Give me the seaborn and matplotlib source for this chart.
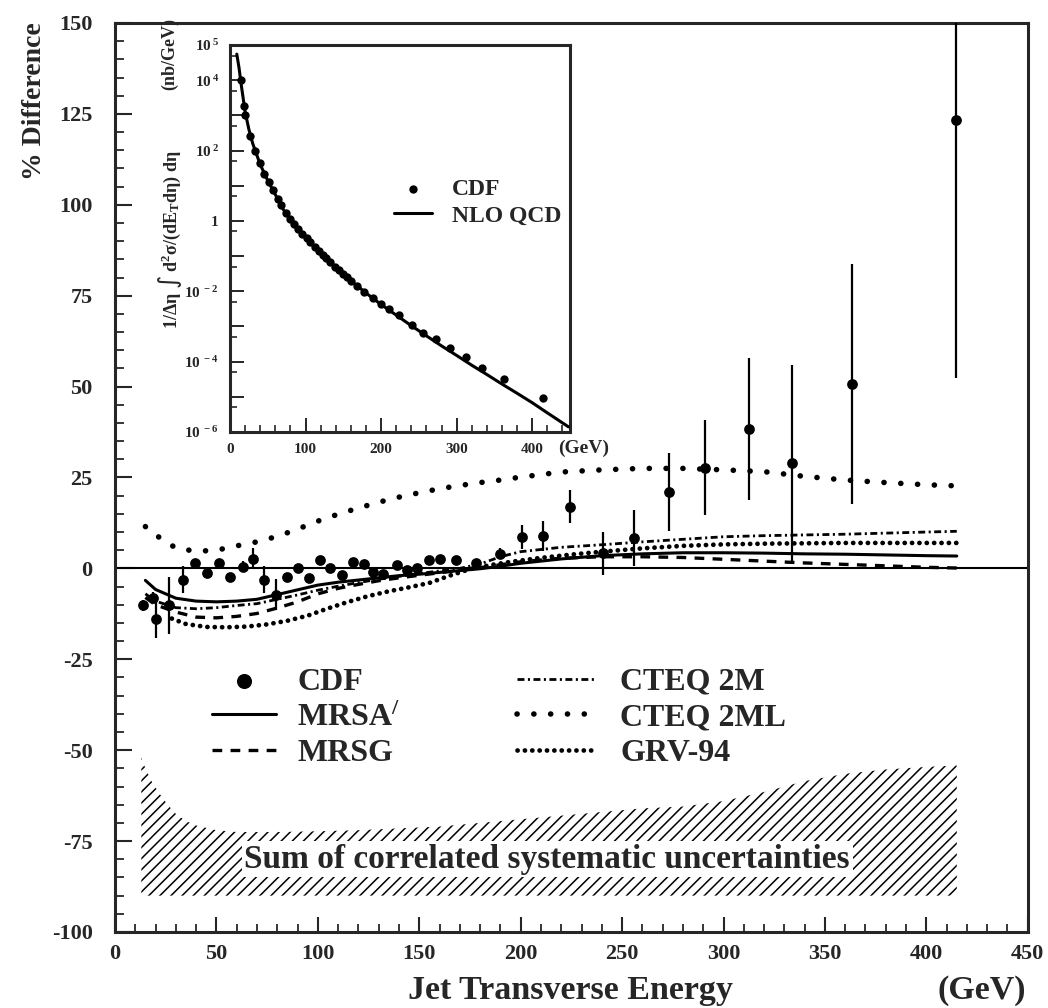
import numpy as np
import pandas as pd
import matplotlib
matplotlib.use("Agg")
import matplotlib.pyplot as plt
import seaborn as sns
from matplotlib.ticker import MultipleLocator, FixedLocator, FixedFormatter, NullFormatter

# ---------------- data ----------------
cdf_et = [14.0, 18.6, 20.2, 26.8, 33.3, 39.4, 45.5, 51.4, 56.7, 62.9, 68.1, 73.6, 79.3, 84.6,
          90.3, 95.7, 101.3, 106.2, 112.0, 117.4, 122.7, 127.0, 132.0, 138.8, 144.0, 149.0,
          154.8, 160.1, 168.3, 178.0, 189.7, 200.5, 211.0, 224.3, 240.4, 256.0, 273.0, 291.0,
          312.8, 334.0, 363.3, 414.6]
cdf_diff = [-10.2, -8.1, -13.8, -10.2, -3.1, 1.5, -1.3, 1.5, -2.4, 0.4, 2.7, -3.1, -7.2, -2.4,
            0.1, -2.6, 2.4, 0.1, -1.7, 1.7, 1.2, -1.0, -1.5, 0.8, -0.5, 0.0,
            2.4, 2.7, 2.4, 1.5, 4.0, 8.6, 8.9, 17.0, 4.1, 8.3, 21.0, 27.7,
            38.4, 29.0, 50.6, 123.4]
cdf_err = [1.5, 1.5, 5.3, 7.8, 3.7, 0.8, 0.8, 0.8, 0.8, 1.5, 3.0, 3.7, 4.3, 0.8,
           0.8, 0.8, 0.8, 0.8, 0.8, 0.8, 0.8, 0.8, 0.8, 0.8, 0.8, 0.8,
           0.8, 0.8, 0.8, 0.8, 1.5, 3.2, 4.0, 4.5, 5.8, 7.7, 10.7, 13.0,
           19.5, 27.0, 33.0, 71.0]

theory_et = [15, 20, 30, 40, 50, 60, 70, 80, 90, 100, 110, 120, 130, 140, 150, 160, 170, 180,
             190, 200, 220, 240, 260, 280, 300, 320, 340, 360, 380, 400, 415]
mrsa = [-3.3, -5.8, -8.2, -9.0, -9.2, -9.0, -8.5, -7.2, -5.9, -4.6, -3.8, -3.2, -2.6, -2.0,
        -1.6, -1.1, -0.6, -0.1, 0.6, 1.4, 2.6, 3.5, 4.0, 4.3, 4.3, 4.2, 4.0, 3.9, 3.7, 3.5, 3.4]
mrsg = [-8.0, -10.0, -12.0, -13.4, -13.6, -13.2, -12.4, -10.9, -9.2, -7.0, -5.5, -4.4, -3.4,
        -2.6, -1.9, -1.2, -0.5, 0.2, 1.0, 1.8, 2.8, 3.2, 3.2, 3.0, 2.5, 2.0, 1.5, 1.1, 0.7, 0.3, 0.1]
cteq2m = [-7.0, -9.0, -10.8, -11.1, -10.8, -10.2, -9.7, -8.5, -7.3, -6.0, -4.9, -3.9, -3.0,
          -2.2, -1.4, -0.7, 0.0, 1.2, 3.2, 4.6, 5.8, 6.5, 7.3, 8.0, 8.7, 9.0, 9.2, 9.4, 9.7, 10.0, 10.2]
cteq2ml = [11.5, 9.2, 5.6, 4.7, 5.0, 6.2, 7.3, 8.8, 10.8, 13.0, 14.9, 16.6, 18.2, 19.6, 20.8,
           21.9, 22.8, 23.6, 24.3, 25.1, 26.5, 27.1, 27.5, 27.5, 27.1, 26.6, 25.3, 24.3, 23.6, 23.0, 22.7]
grv_et = [28, 35, 45, 55, 65, 75, 85, 95, 105, 115, 125, 135, 145, 155, 165, 175, 185, 195,
          210, 225, 240, 260, 280, 300, 320, 340, 360, 380, 400, 415]
grv94 = [-13.8, -15.3, -16.1, -16.2, -16.0, -15.4, -14.4, -13.0, -11.0, -9.2, -7.6, -6.3, -5.2,
         -4.0, -2.0, -0.2, 0.9, 1.8, 2.9, 3.8, 4.6, 5.5, 6.2, 6.6, 6.8, 6.9, 7.0, 7.0, 7.0, 7.0]

band_et = [13, 15, 18, 22, 26, 30, 35, 40, 50, 60, 80, 100, 120, 140, 160, 180, 200, 220, 240,
           260, 280, 300, 320, 340, 360, 380, 400, 415]
band_top = [-52, -55, -58.5, -62, -65, -67.5, -69.5, -70.7, -72, -72.5, -72.5, -72.3, -72, -71.5,
            -71, -70, -69, -68, -67, -66, -65.5, -64, -61.5, -58.5, -56.5, -55.3, -54.6, -54.2]
band_bottom = [-90] * len(band_et)

# inset: cross section (nb/GeV)
inset_xsec = [1.0e4, 1.9e3, 1.0e3, 2.6e2, 98, 44, 22, 12.6, 7.4, 4.3, 2.75, 1.7, 1.1, 0.82,
              0.59, 0.43, 0.32, 0.245, 0.178, 0.141, 0.107, 0.087, 0.069, 0.050, 0.040, 0.032,
              0.0256, 0.020, 0.0143, 0.0096, 0.0064, 0.0044, 0.0031, 0.0021, 0.00107, 6.6e-4,
              4.3e-4, 2.5e-4, 1.38e-4, 6.6e-5, 3.2e-5, 9.5e-6]
nlo_et = [9, 12, 15, 20, 25, 30, 40, 50, 60, 70, 80, 90, 100, 120, 140, 160, 180, 200, 220, 240,
          260, 280, 300, 320, 340, 360, 380, 400, 420, 448]
nlo_xsec = [5.5e4, 2.2e4, 7.1e3, 1.26e3, 4.0e2, 1.6e2, 40, 14, 5.6, 2.2, 1.1, 0.6, 0.34, 0.12,
            0.048, 0.020, 0.0089, 0.0042, 0.0021, 0.00105, 5.4e-4, 2.8e-4, 1.5e-4, 7.9e-5,
            4.3e-5, 2.3e-5, 1.26e-5, 6.8e-6, 3.5e-6, 1.4e-6]

x_ticks = [0, 50, 100, 150, 200, 250, 300, 350, 400, 450]
y_ticks = [-100, -75, -50, -25, 0, 25, 50, 75, 100, 125, 150]
inset_decades = [1e-6, 1e-5, 1e-4, 1e-3, 1e-2, 1e-1, 1, 1e1, 1e2, 1e3, 1e4, 1e5]
inset_ylabels = [r"$\mathregular{10^{\,-6}}$", "", r"$\mathregular{10^{\,-4}}$", "",
                 r"$\mathregular{10^{\,-2}}$", "", "1", "", r"$\mathregular{10^{\,2}}$", "",
                 r"$\mathregular{10^{\,4}}$", r"$\mathregular{10^{\,5}}$"]
inset_xticks = [0, 100, 200, 300, 400]

# ---------------- style ----------------
sns.set_theme(style="ticks")
plt.rcParams["font.family"] = ["Liberation Serif", "DejaVu Serif"]
plt.rcParams["font.weight"] = "bold"
plt.rcParams["mathtext.default"] = "regular"
plt.rcParams["axes.unicode_minus"] = False
plt.rcParams["lines.scale_dashes"] = False
plt.rcParams["hatch.linewidth"] = 1.1
plt.rcParams["hatch.color"] = "black"

fig = plt.figure(figsize=(10.48, 10.08), dpi=100)
fig.patch.set_facecolor("white")
ax = fig.add_axes([0.1097, 0.0754, 0.871, 0.9018])
ax.set_facecolor("white")

# systematic band
ax.fill_between(band_et, band_bottom, band_top, facecolor="none", edgecolor="black",
                hatch="///", linewidth=0, zorder=1)
ax.text(213, -80, "Sum of correlated systematic uncertainties", ha="center", va="center",
        fontsize=24, fontweight="bold", zorder=3,
        bbox=dict(facecolor="white", edgecolor="none", pad=2))

ax.axhline(0, color="black", lw=1.5, zorder=2)

# theory curves
sns.lineplot(x=theory_et, y=mrsa, ax=ax, color="black", lw=2.2, label=r"MRSA$^{/}$", zorder=4)
sns.lineplot(x=theory_et, y=mrsg, ax=ax, color="black", lw=2.4, linestyle=(0, (7, 6)),
             label="MRSG", zorder=4)
sns.lineplot(x=theory_et, y=cteq2m, ax=ax, color="black", lw=2.0,
             linestyle=(0, (5, 2.5, 1.5, 2.5)), label="CTEQ 2M", zorder=4)
sns.lineplot(x=theory_et, y=cteq2ml, ax=ax, color="black", lw=4.0, linestyle=(0, (0.1, 12)),
             dash_capstyle="round", label="CTEQ 2ML", zorder=4)
sns.lineplot(x=grv_et, y=grv94, ax=ax, color="black", lw=3.4, linestyle=(0, (0.1, 5.2)),
             dash_capstyle="round", label="GRV-94", zorder=4)

# CDF data
ax.errorbar(cdf_et, cdf_diff, yerr=cdf_err, fmt="none", ecolor="black", elinewidth=1.6,
            capsize=0, zorder=5)
sns.scatterplot(x=cdf_et, y=cdf_diff, ax=ax, color="black", s=60, edgecolor="black",
                linewidth=0, label="CDF", zorder=6)

ax.set_xlim(0, 450)
ax.set_ylim(-100, 150)
ax.set_xlabel("")
ax.set_ylabel("")
ax.xaxis.set_major_locator(FixedLocator(x_ticks))
ax.xaxis.set_minor_locator(MultipleLocator(10))
ax.yaxis.set_major_locator(FixedLocator(y_ticks))
ax.yaxis.set_minor_locator(MultipleLocator(5))
ax.tick_params(axis="both", which="both", direction="in", top=False, right=False)
ax.tick_params(axis="x", which="major", length=11, width=1.5, pad=9, labelsize=16)
ax.tick_params(axis="x", which="minor", length=6, width=1.3)
ax.tick_params(axis="y", which="major", length=12, width=1.5, pad=16, labelsize=16)
ax.tick_params(axis="y", which="minor", length=6.5, width=1.3)
for lab in ax.get_xticklabels() + ax.get_yticklabels():
    lab.set_fontweight("bold")
for sp in ax.spines.values():
    sp.set_linewidth(2.2)
    sp.set_visible(True)

# legend in two columns (two legend boxes with their own handle lengths)
handles, labels = ax.get_legend_handles_labels()
hmap = dict(zip(labels, handles))
col1 = ["CDF", r"MRSA$^{/}$", "MRSG"]
col2 = ["CTEQ 2M", "CTEQ 2ML", "GRV-94"]
leg1 = ax.legend([hmap[k] for k in col1], col1, loc="upper left",
                 bbox_to_anchor=(0.106, 0.291), frameon=False, fontsize=23,
                 handlelength=2.0, handletextpad=0.67, labelspacing=0.2, borderpad=0,
                 borderaxespad=0, markerscale=1.4)
for t in leg1.get_texts():
    t.set_fontweight("bold")
ax.add_artist(leg1)
leg2 = ax.legend([hmap[k] for k in col2], col2, loc="upper left",
                 bbox_to_anchor=(0.440, 0.291), frameon=False, fontsize=23,
                 handlelength=2.5, handletextpad=0.75, labelspacing=0.2, borderpad=0,
                 borderaxespad=0)
for t in leg2.get_texts():
    t.set_fontweight("bold")

fig.text(35 / 1048, 1 - 22 / 1008, "% Difference", rotation=90, ha="center", va="top",
         fontsize=20, fontweight="bold")
fig.text(570 / 1048, 1 - 990 / 1008, "Jet Transverse Energy", ha="center", va="center",
         fontsize=24.5, fontweight="bold")
fig.text(982 / 1048, 1 - 990 / 1008, "(GeV)", ha="center", va="center",
         fontsize=24.5, fontweight="bold")

# ---------------- inset ----------------
ins = fig.add_axes([230 / 1048, 1 - 432 / 1008, 340 / 1048, 387 / 1008], zorder=10)
ins.set_facecolor("white")
sns.lineplot(x=nlo_et, y=nlo_xsec, ax=ins, color="black", lw=2.2, label="NLO QCD", zorder=3)
sns.scatterplot(x=cdf_et, y=inset_xsec, ax=ins, color="black", s=36, linewidth=0,
                label="CDF", zorder=4)
ins.set_yscale("log")
ins.set_xlim(0, 450)
ins.set_ylim(1e-6, 1e5)
ins.set_xlabel("")
ins.set_ylabel("")
ins.yaxis.set_major_locator(FixedLocator(inset_decades))
ins.yaxis.set_major_formatter(FixedFormatter(inset_ylabels))
ins.yaxis.set_minor_locator(FixedLocator([5 * d for d in inset_decades[:-1]]))
ins.yaxis.set_minor_formatter(NullFormatter())
ins.xaxis.set_major_locator(FixedLocator(inset_xticks))
ins.xaxis.set_minor_locator(MultipleLocator(20))
ins.tick_params(axis="both", which="both", direction="in", top=False, right=False)
ins.tick_params(axis="both", which="major", length=10, width=1.4, labelsize=11)
ins.tick_params(axis="both", which="minor", length=5, width=1.2)
ins.tick_params(axis="x", which="major", pad=8)
ins.tick_params(axis="y", which="major", pad=8)
for lab in ins.get_xticklabels() + ins.get_yticklabels():
    lab.set_fontweight("bold")
for sp in ins.spines.values():
    sp.set_linewidth(2.2)
    sp.set_visible(True)
ins.text(1.04, -0.041, "(GeV)", transform=ins.transAxes, ha="center", va="center",
         fontsize=14, fontweight="bold")

ih, il = ins.get_legend_handles_labels()
imap = dict(zip(il, ih))
ileg = ins.legend([imap["CDF"], imap["NLO QCD"]], ["CDF", "NLO QCD"], loc="upper left",
                  bbox_to_anchor=(0.447, 0.685), frameon=False, fontsize=17,
                  handlelength=1.6, handletextpad=0.85, labelspacing=0.2, borderpad=0)
for t in ileg.get_texts():
    t.set_fontweight("bold")

fig.text(170 / 1048, 1 - 240 / 1008,
         r"1/Δη ∫ d$^{2}$σ/(dE$_{T}$dη) dη", rotation=90, ha="center", va="center",
         fontsize=13, fontweight="bold")
fig.text(170 / 1048, 1 - 54 / 1008, "(nb/GeV)", rotation=90, ha="center", va="center",
         fontsize=13, fontweight="bold")

fig.savefig("out.png", dpi=100, facecolor="white")
